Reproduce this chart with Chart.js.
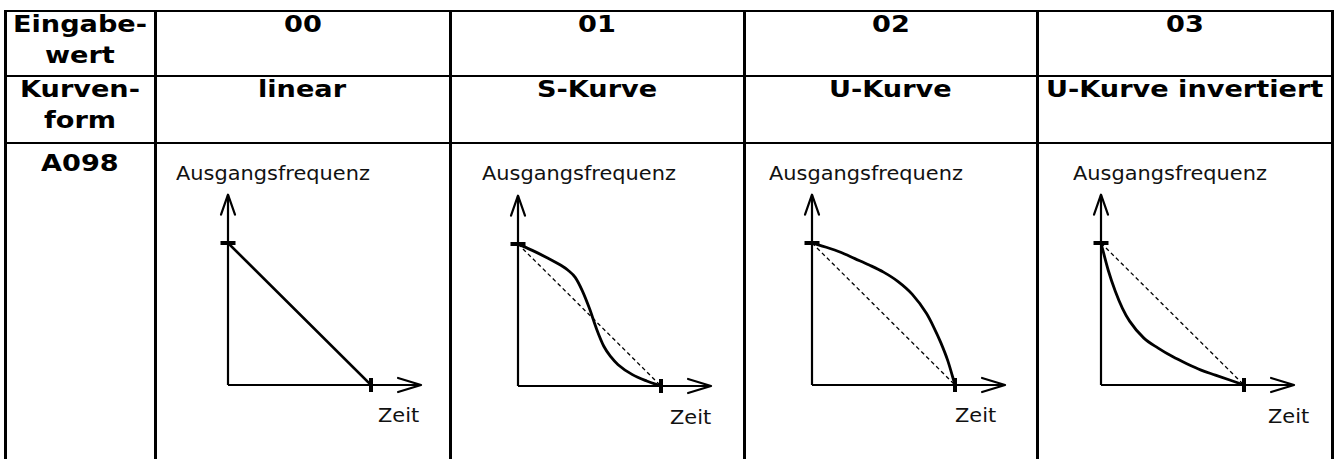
<!DOCTYPE html>
<html><head><meta charset="utf-8">
<script src="https://cdn.jsdelivr.net/npm/chart.js@4.4.1/dist/chart.umd.min.js"></script>
<style>
html,body{margin:0;padding:0;background:#fff;}
#page{position:relative;width:1338px;height:459px;overflow:hidden;background:#fff;}
.hl{position:absolute;background:#000;height:2px;}
.vl{position:absolute;background:#000;width:3px;}
.t{position:absolute;white-space:nowrap;color:#000;line-height:1;transform-origin:left top;}
.b{font-family:"DejaVu Sans";font-weight:bold;font-size:23px;}
.r{font-family:"DejaVu Sans";font-size:19px;color:#111;}
canvas{position:absolute;}
</style></head><body><div id="page"></div>
<script>
// ---------- data ----------
const inputValues = ["00", "01", "02", "03"];
const curveNames = ["linear", "S-Kurve", "U-Kurve", "U-Kurve invertiert"];
const rowHeader1 = ["Eingabe-", "wert"];
const rowHeader2 = ["Kurven-", "form"];
const rowHeader3 = ["A098"];
const yAxisLabel = "Ausgangsfrequenz";
const xAxisLabel = "Zeit";

// normalised time (0..1) and output frequency (1 -> 0)
const linearX = [0, 1];
const linearY = [1, 0];
const sCurveX = [0, 0.1, 0.2, 0.3, 0.35, 0.4, 0.45, 0.5, 0.55, 0.6, 0.65, 0.7, 0.8, 0.9, 1];
const sCurveY = [1, 0.955, 0.905, 0.85, 0.815, 0.765, 0.67, 0.545, 0.40, 0.28, 0.205, 0.15, 0.08, 0.035, 0];
const uCurveX = [0, 0.1, 0.2, 0.3, 0.4, 0.5, 0.6, 0.7, 0.8, 0.85, 0.9, 0.95, 1];
const uCurveY = [1, 0.97, 0.935, 0.89, 0.845, 0.795, 0.73, 0.64, 0.505, 0.41, 0.3, 0.17, 0];
const uInvX = [0, 0.05, 0.1, 0.15, 0.2, 0.3, 0.4, 0.5, 0.6, 0.7, 0.8, 0.9, 1];
const uInvY = [1, 0.81, 0.66, 0.54, 0.45, 0.33, 0.26, 0.2, 0.15, 0.105, 0.07, 0.035, 0];
const refX = [0, 1];
const refY = [1, 0];
const xAxisEnd = 1.35;
const yAxisEnd = 1.34;

// ---------- layout ----------
const page = document.getElementById('page');
const colLines = [5, 155, 450, 744, 1037, 1332];
const rowLines = [11, 76, 143];
rowLines.forEach(y => {
  const d = document.createElement('div'); d.className = 'hl';
  d.style.left = (colLines[0] - 1) + 'px'; d.style.width = (colLines[5] - colLines[0] + 3) + 'px';
  d.style.top = (y - 1) + 'px'; page.appendChild(d);
});
colLines.forEach(x => {
  const d = document.createElement('div'); d.className = 'vl';
  d.style.left = (x - 1) + 'px'; d.style.top = (rowLines[0] - 1) + 'px';
  d.style.height = (459 - rowLines[0] + 2) + 'px'; page.appendChild(d);
});

function addText(str, cls, x, baseline, align, sx) {
  const el = document.createElement('div'); el.className = 't ' + cls;
  el.appendChild(document.createTextNode(str));
  const m = document.createElement('span');
  m.style.cssText = 'display:inline-block;width:0;height:0;';
  el.appendChild(m);
  page.appendChild(el);
  const w = el.getBoundingClientRect().width;
  const bo = m.offsetTop;
  const left = align === 'center' ? x - w * sx / 2 : x;
  el.style.left = left + 'px';
  el.style.top = (baseline - bo) + 'px';
  el.style.transform = 'scaleX(' + sx + ')';
}
const colCenters = [];
for (let i = 0; i < 5; i++) colCenters.push((colLines[i] + colLines[i + 1]) / 2);
const SB = 1.18, SR = 1.1;
addText(rowHeader1[0], 'b', colCenters[0], 32, 'center', SB);
addText(rowHeader1[1], 'b', colCenters[0], 63, 'center', SB);
addText(rowHeader2[0], 'b', colCenters[0], 97, 'center', SB);
addText(rowHeader2[1], 'b', colCenters[0], 128, 'center', SB);
addText(rowHeader3[0], 'b', colCenters[0], 171, 'center', SB);
inputValues.forEach((v, i) => addText(v, 'b', colCenters[i + 1], 32, 'center', SB));
curveNames.forEach((v, i) => addText(v, 'b', colCenters[i + 1], 97, 'center', SB));

const yLabelLeft = [176, 482, 769, 1073];
const xLabelLeft = [378, 670, 955, 1268];
const xLabelBase = [422, 424, 422, 423];
yLabelLeft.forEach(x => addText(yAxisLabel, 'r', x, 180, 'left', SR));
xLabelLeft.forEach((x, i) => addText(xAxisLabel, 'r', x, xLabelBase[i], 'left', SR));

// ---------- charts ----------
const plotOrigins = [[228, 385], [518, 386], [812, 385], [1101, 385]];
const unitX = 143, unitY = 142;
const padL = 25, padR = 215, padT = 202, padB = 25;

const arrowPlugin = {
  id: 'arrows',
  afterDatasetsDraw(chart) {
    const ctx = chart.ctx;
    chart.data.datasets.forEach((ds, i) => {
      if (!ds.arrow) return;
      const meta = chart.getDatasetMeta(i);
      const p = meta.data[meta.data.length - 1];
      ctx.save(); ctx.strokeStyle = '#000'; ctx.lineWidth = 2.2; ctx.lineJoin = 'round'; ctx.lineCap = 'round';
      ctx.beginPath();
      if (ds.arrow === 'up') { ctx.moveTo(p.x - 7, p.y + 20); ctx.lineTo(p.x, p.y); ctx.lineTo(p.x + 7, p.y + 20); }
      else { ctx.moveTo(p.x - 23, p.y - 7); ctx.lineTo(p.x, p.y); ctx.lineTo(p.x - 23, p.y + 7); }
      ctx.stroke(); ctx.restore();
    });
  }
};

function pts(xs, ys) { return xs.map((x, i) => ({ x: x, y: ys[i] })); }
const curves = [[linearX, linearY], [sCurveX, sCurveY], [uCurveX, uCurveY], [uInvX, uInvY]];

plotOrigins.forEach((o, i) => {
  const c = document.createElement('canvas');
  c.width = padL + padR; c.height = padT + padB;
  c.style.left = (o[0] - padL) + 'px'; c.style.top = (o[1] - padT) + 'px';
  c.style.width = c.width + 'px'; c.style.height = c.height + 'px';
  page.appendChild(c);
  const datasets = [];
  datasets.push({ data: pts(curves[i][0], curves[i][1]), showLine: true, borderColor: '#000', borderWidth: i === 0 ? 2.5 : 2.8,
    pointRadius: 0, cubicInterpolationMode: 'monotone', order: 1 });
  if (i > 0) datasets.push({ data: pts(refX, refY), showLine: true, borderColor: '#000', borderWidth: 1.3,
    borderDash: [4, 3], pointRadius: 0, order: 2 });
  datasets.push({ data: [{ x: 0, y: 0 }, { x: xAxisEnd, y: 0 }], showLine: true, borderColor: '#000', borderWidth: 2.2, pointRadius: 0, arrow: 'right', order: 3 });
  datasets.push({ data: [{ x: 0, y: 0 }, { x: 0, y: yAxisEnd }], showLine: true, borderColor: '#000', borderWidth: 2.2, pointRadius: 0, arrow: 'up', order: 3 });
  datasets.push({ data: [{ x: 0, y: 1 }], showLine: false, pointStyle: 'line', pointRadius: 7.5, pointBorderWidth: 4,
    pointBorderColor: '#000', pointRotation: 0, order: 0 });
  datasets.push({ data: [{ x: 1, y: 0 }], showLine: false, pointStyle: 'line', pointRadius: 7, pointBorderWidth: 4,
    pointBorderColor: '#000', pointRotation: 90, order: 0 });
  new Chart(c, {
    type: 'scatter',
    data: { datasets: datasets },
    options: {
      responsive: false, animation: false, devicePixelRatio: 1, events: [],
      layout: { padding: 0, autoPadding: false },
      plugins: { legend: { display: false }, tooltip: { enabled: false }, title: { display: false } },
      scales: {
        x: { type: 'linear', display: false, min: -padL / unitX, max: padR / unitX },
        y: { type: 'linear', display: false, min: -padB / unitY, max: padT / unitY }
      }
    },
    plugins: [arrowPlugin]
  });
});
</script>
</body></html>
